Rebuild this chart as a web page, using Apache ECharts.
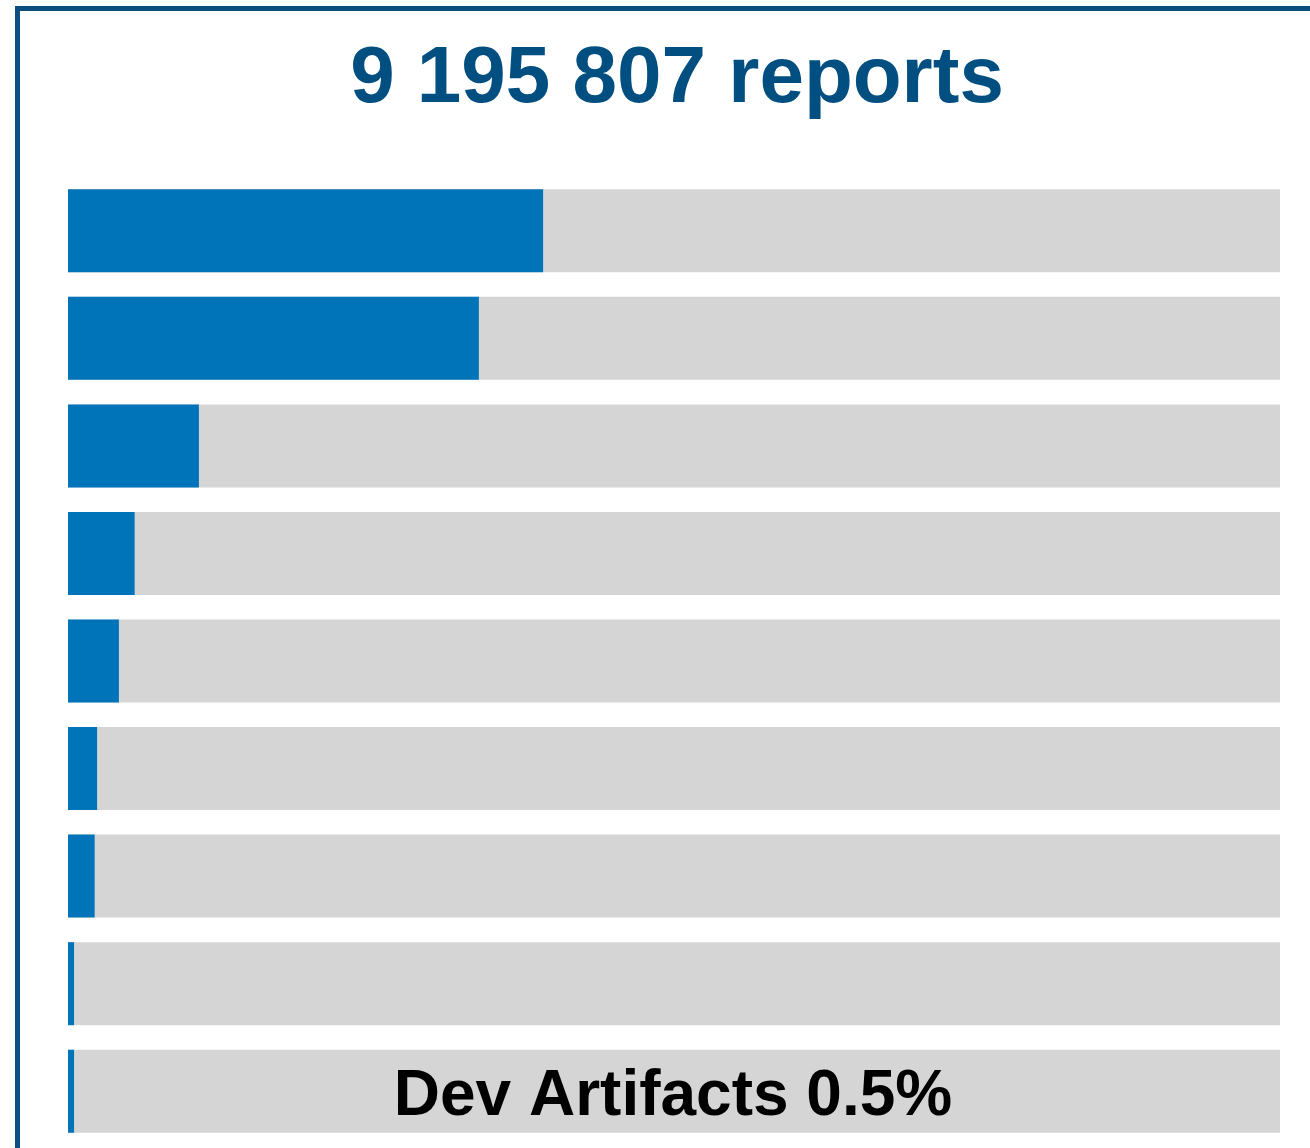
<!DOCTYPE html>
<html>
<head>
<meta charset="utf-8">
<script src="https://cdn.jsdelivr.net/npm/echarts@6/dist/echarts.min.js"></script>
<style>
html,body{margin:0;padding:0;background:#fff;}
#chart{width:1310px;height:1148px;}
</style>
</head>
<body>
<div id="chart"></div>
<script>
const titleText = "9 195 807 reports";
const categories = ["", "", "", "", "", "", "", "", "Dev Artifacts"];
const shares = [39.2, 33.9, 10.8, 5.5, 4.2, 2.4, 2.2, 0.5, 0.5];
const labelled = [false, false, false, false, false, false, false, false, true];
const fullScale = 100;

const chart = echarts.init(document.getElementById('chart'), null, {renderer: 'canvas'});
const font = '"Liberation Sans", Arial, Helvetica, sans-serif';

const bgData = categories.map((c, i) => ({
  value: fullScale,
  label: {
    show: labelled[i],
    formatter: c + ' ' + shares[i] + '%'
  }
}));

chart.setOption({
  animation: false,
  backgroundColor: '#ffffff',
  title: {
    text: titleText,
    left: 672,
    textAlign: 'center',
    top: 35,
    textStyle: {fontFamily: font, fontWeight: 'bold', fontSize: 80, color: '#004f80'}
  },
  graphic: [{
    type: 'rect',
    shape: {x: 17.5, y: 8.5, width: 1500, height: 1400},
    style: {fill: 'none', stroke: '#0a4f7e', lineWidth: 5},
    silent: true
  }],
  grid: {left: 68, right: 30, top: 177, height: 968, containLabel: false},
  xAxis: {type: 'value', min: 0, max: fullScale, show: false},
  yAxis: {type: 'category', data: categories, inverse: true, show: false},
  series: [
    {
      type: 'bar',
      data: bgData,
      barWidth: 83,
      barGap: '-100%',
      itemStyle: {color: '#d5d5d5'},
      silent: true,
      z: 1,
      label: {
        position: 'inside',
        offset: [-1, 6],
        fontFamily: font,
        fontWeight: 'bold',
        fontSize: 64,
        color: '#000000'
      }
    },
    {
      type: 'bar',
      data: shares,
      barWidth: 83,
      barGap: '-100%',
      itemStyle: {color: '#0074b8'},
      z: 2
    }
  ]
});
</script>
</body>
</html>
